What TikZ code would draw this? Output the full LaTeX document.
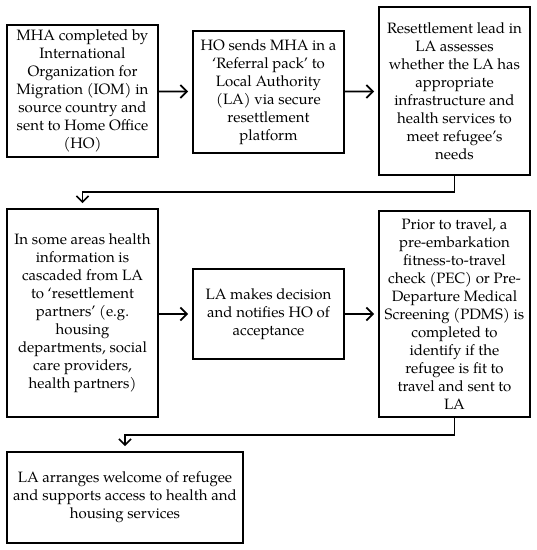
\documentclass[tikz,border=0pt]{standalone}
\usepackage{fontspec}
\setmainfont{texgyrepagella}[Extension=.otf,UprightFont=*-regular,BoldFont=*-bold,ItalicFont=*-italic,BoldItalicFont=*-bolditalic]
\usetikzlibrary{arrows.meta}
\begin{document}
\begin{tikzpicture}[x=1pt,y=-1pt,
  box/.style={draw,line width=1.8pt,align=center,inner sep=0pt,font=\fontsize{15}{18}\selectfont},
  flow/.style={line width=1.8pt,-{Straight Barb[length=6.5pt,width=13pt,line width=1.8pt]},shorten >=4pt},
  elbow/.style={line width=1.4pt,-{Straight Barb[length=6pt,width=12pt,line width=1.6pt]},shorten >=5pt}]
\useasboundingbox (0,0) rectangle (537,550);
\node[box,minimum width=151pt,minimum height=132pt] (b1) at (82.5,91) {MHA completed by\\International\\Organization for\\Migration (IOM) in\\source country and\\sent to Home Office\\(HO)};
\node[box,minimum width=151pt,minimum height=122pt] (b2) at (268.5,92) {HO sends MHA in a\\‘Referral pack’ to\\Local Authority\\(LA) via secure\\resettlement\\platform};
\node[box,minimum width=151pt,minimum height=168pt] (b3) at (454.5,91) {Resettlement lead in\\LA assesses\\whether the LA has\\appropriate\\infrastructure and\\health services to\\meet refugee’s\\needs};
\node[box,minimum width=151pt,minimum height=208pt] (b4) at (82.5,313) {In some areas health\\information is\\cascaded from LA\\to ‘resettlement\\partners’ (e.g.\\housing\\departments, social\\care providers,\\health partners)};
\node[box,minimum width=151pt,minimum height=90pt] (b5) at (268.5,314) {LA makes decision\\and notifies HO of\\acceptance};
\node[box,minimum width=151pt,minimum height=206pt] (b6) at (454.5,314) {Prior to travel, a\\pre-embarkation\\fitness-to-travel\\check (PEC) or Pre-\\Departure Medical\\Screening (PDMS) is\\completed to\\identify if the\\refugee is fit to\\travel and sent to\\LA};
\node[box,minimum width=236pt,minimum height=91pt] (b7) at (125,497.5) {LA arranges welcome of refugee\\and supports access to health and\\housing services};
\draw[flow] (b1) -- (b2);
\draw[flow] (b2) -- (b3);
\draw[flow] (b4.east |- b5) -- (b5);
\draw[flow] (b5) -- (b6.west |- b5);
\coordinate (j1) at (454.5,192);
\coordinate (j2) at (82.5,192);
\draw[elbow] (b3.south) -- (j1) -- (j2) -- (b4.north);
\coordinate (j3) at (454.5,435);
\coordinate (j4) at (125,435);
\draw[elbow] (b6.south) -- (j3) -- (j4) -- (b7.north);
\end{tikzpicture}
\end{document}
